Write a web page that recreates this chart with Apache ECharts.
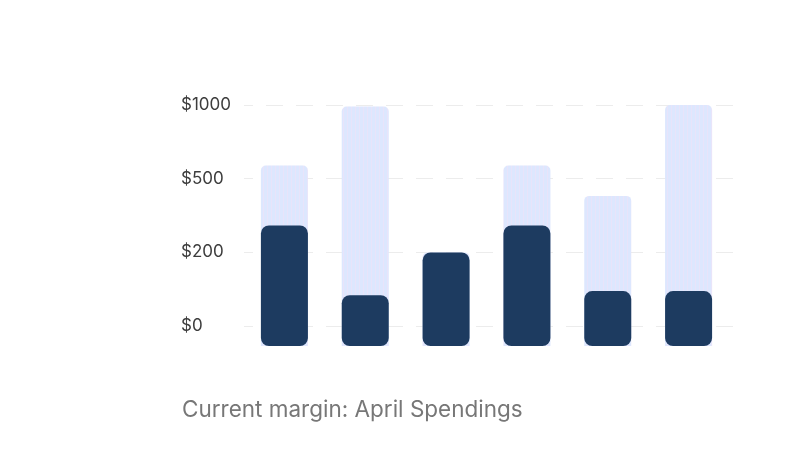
<!DOCTYPE html>
<html>
<head>
<meta charset="utf-8">
<script src="https://cdn.jsdelivr.net/npm/echarts@6/dist/echarts.min.js"></script>
<style>
html,body{margin:0;padding:0;background:#fff;}
#chart{width:800px;height:459px;}
</style>
</head>
<body>
<div id="chart"></div>
<script>
// Data
const categories = ['A', 'B', 'C', 'D', 'E', 'F'];
const tickValues = [0, 200, 500, 1000];
const tickLabels = ['$0', '$200', '$500', '$1000'];
const budgetValues = [590, 990, 200, 590, 430, 1000];
const spentValues = [310, 84, 200, 310, 95, 95];
const titleText = 'Current margin: April Spendings';

// bars start a little below the $0 line (presentation offset, in tick steps)
const BAR_BASE = 0.27;

// map dollar value onto equally spaced tick positions (axis scale is piecewise)
function toAxis(v) {
  for (let i = 1; i < tickValues.length; i++) {
    if (v <= tickValues[i]) {
      return (i - 1) + (v - tickValues[i - 1]) / (tickValues[i] - tickValues[i - 1]);
    }
  }
  return tickValues.length - 1;
}

// striped pattern for the light bars
const pc = document.createElement('canvas');
pc.width = 4; pc.height = 4;
const pctx = pc.getContext('2d');
pctx.fillStyle = '#dde7fe'; pctx.fillRect(0, 0, 4, 4);
pctx.fillStyle = '#e8e4fa'; pctx.fillRect(3, 0, 1, 4);

const chart = echarts.init(document.getElementById('chart'));
chart.setOption({
  animation: false,
  backgroundColor: '#ffffff',
  title: {
    text: titleText,
    left: 177, top: 394,
    textStyle: { fontFamily: 'Inter', fontSize: 22.5, fontWeight: 'normal', color: '#777777' }
  },
  grid: [
    { left: 244, right: 62, top: 105, bottom: 133 },
    { left: 244, right: 71, top: 105, bottom: 113 }
  ],
  xAxis: [
    { type: 'category', gridIndex: 0, data: categories, show: false },
    { type: 'category', gridIndex: 1, data: categories, show: false }
  ],
  yAxis: [
    {
      type: 'value', gridIndex: 0, min: 0, max: 3, interval: 1,
      axisLine: { show: false }, axisTick: { show: false },
      axisLabel: {
        align: 'left', margin: 63,
        fontFamily: 'Inter', fontSize: 17, color: '#3d3d3d',
        formatter: v => tickLabels[Math.round(v)]
      },
      splitLine: { lineStyle: { color: '#ececec', width: 1, type: [17, 13], dashOffset: 8 } }
    },
    {
      type: 'value', gridIndex: 1, min: 0, max: 3 + BAR_BASE, show: false,
      splitLine: { show: false }
    }
  ],
  series: [
    {
      type: 'bar', xAxisIndex: 1, yAxisIndex: 1,
      data: budgetValues.map(v => toAxis(v) + BAR_BASE),
      barWidth: 47, barGap: '-100%',
      itemStyle: { color: { image: pc, repeat: 'repeat' }, borderRadius: [5, 5, 0, 0] },
      z: 2
    },
    {
      type: 'bar', xAxisIndex: 1, yAxisIndex: 1,
      data: spentValues.map(v => toAxis(v) + BAR_BASE),
      barWidth: 47, barGap: '-100%',
      itemStyle: { color: '#1d3b60', borderRadius: 8 },
      z: 3
    }
  ]
});
</script>
</body>
</html>
